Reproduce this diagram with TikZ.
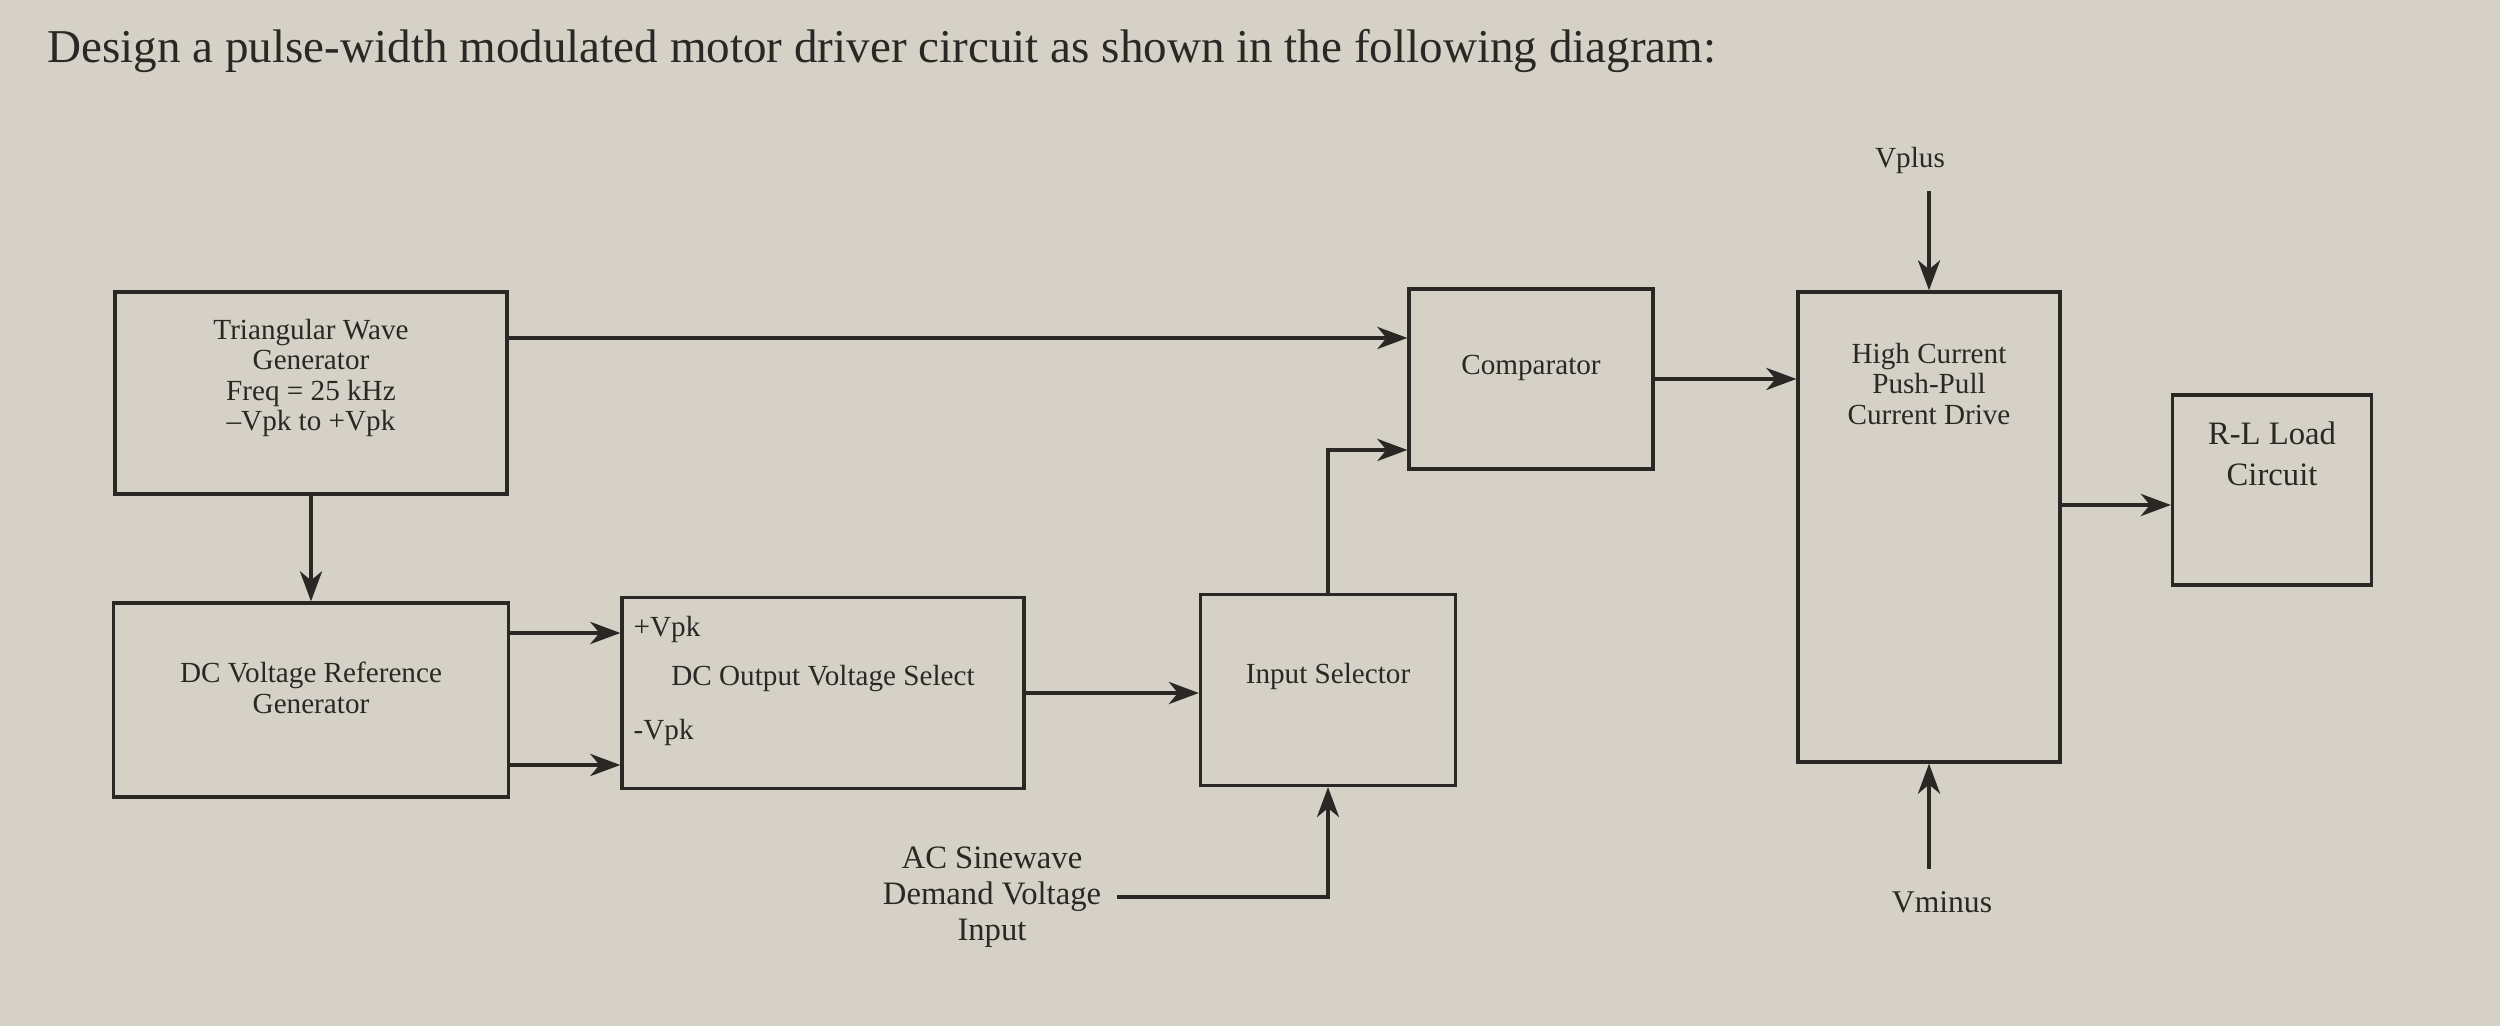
\documentclass[tikz,border=0pt]{standalone}
\usepackage{fontspec}
\setmainfont{Liberation Serif}
\usetikzlibrary{positioning,arrows.meta}
\definecolor{paper}{RGB}{214,209,199}
\definecolor{ink}{RGB}{42,39,37}

\begin{document}
\begin{tikzpicture}[>={Stealth[length=3mm,width=2.2mm,inset=0.9mm]},
    font=\fontsize{8.3}{8.6}\selectfont, color=ink]
    \tikzset{%
      blk/.style={draw, line width=0.9pt, inner sep=0pt},
      sig/.style={->, line width=1.3pt},
      txt/.style={align=center, inner sep=0pt}
      }
    \fill [paper] (0,0) rectangle (25,10.26);
    \useasboundingbox (0,0) rectangle (25,10.26);

    \node [anchor=west, font=\fontsize{13.4}{15}\selectfont] (Ttitle) at (0.35,9.75)
      {Design a pulse-width modulated motor driver circuit as shown in the following diagram:};

    % boxes
    \node [blk, minimum width=3.92cm, minimum height=2.02cm] (Btri) at (3.11,6.33) {};
    \node [txt] (Ltri) at (3.11,6.48) {Triangular Wave\\Generator\\Freq = 25 kHz\\--Vpk to +Vpk};

    \node [blk, minimum width=3.95cm, minimum height=1.94cm] (Bref) at (3.11,3.26) {};
    \node [txt] (Lref) at (3.11,3.38) {DC Voltage Reference\\Generator};

    \node [blk, minimum width=4.02cm, minimum height=1.91cm] (Bout) at (8.23,3.33) {};
    \node [txt] (Lout) at (8.23,3.47) {DC Output Voltage Select};
    \node [txt, anchor=west] (Lplus) at (6.33,3.96) {+Vpk};
    \node [txt, anchor=west] (Lminus) at (6.33,2.93) {-Vpk};

    \node [blk, minimum width=2.55cm, minimum height=1.91cm] (Bsel) at (13.28,3.36) {};
    \node [txt] (Lsel) at (13.28,3.49) {Input Selector};

    \node [blk, minimum width=2.44cm, minimum height=1.80cm] (Bcmp) at (15.31,6.47) {};
    \node [txt] (Lcmp) at (15.31,6.58) {Comparator};

    \node [blk, minimum width=2.62cm, minimum height=4.70cm] (Bhc) at (19.29,4.99) {};
    \node [txt] (Lhc) at (19.29,6.42) {High Current\\Push-Pull\\Current Drive};

    \node [blk, minimum width=1.99cm, minimum height=1.90cm] (Brl) at (22.72,5.36) {};
    \node [txt, font=\fontsize{9.3}{11.5}\selectfont] (Lrl) at (22.72,5.72) {R-L Load\\Circuit};

    % outside texts
    \node [txt] (Tvplus) at (19.10,8.65) {Vplus};
    \node [txt, font=\fontsize{9}{10}\selectfont] (Tvminus) at (19.42,1.24) {Vminus};
    \node [txt, font=\fontsize{9.3}{10.3}\selectfont] (Tac) at (9.92,1.29) {AC Sinewave\\Demand Voltage\\Input};
    \coordinate (Cvplus) at (19.29,8.35);
    \coordinate (Cvminus) at (19.29,1.57);

    % connections
    \draw [sig] ([yshift=5.5mm]Btri.east) -- ([yshift=5.5mm]Btri.east -| Bcmp.west);
    \draw [sig] (Btri.south) -- (Bref.north);
    \draw [sig] ([yshift=6.7mm]Bref.east) -- ([yshift=6.7mm]Bref.east -| Bout.west);
    \draw [sig] ([yshift=-6.5mm]Bref.east) -- ([yshift=-6.5mm]Bref.east -| Bout.west);
    \draw [sig] (Bout.east) -- (Bout.east -| Bsel.west);
    \draw [sig] (Bsel.north) |- ([yshift=-7.1mm]Bcmp.west);
    \draw [->, line width=1pt] ([xshift=1.5mm]Tac.east) -| (Bsel.south);
    \draw [sig] (Bcmp.east) -- (Bcmp.east -| Bhc.west);
    \draw [sig] (Cvplus) -- (Bhc.north);
    \draw [sig] (Cvminus) -- (Bhc.south);
    \draw [sig] ([yshift=-1.5mm]Brl.west -| Bhc.east) -- ([yshift=-1.5mm]Brl.west);

  \end{tikzpicture}
\end{document}
